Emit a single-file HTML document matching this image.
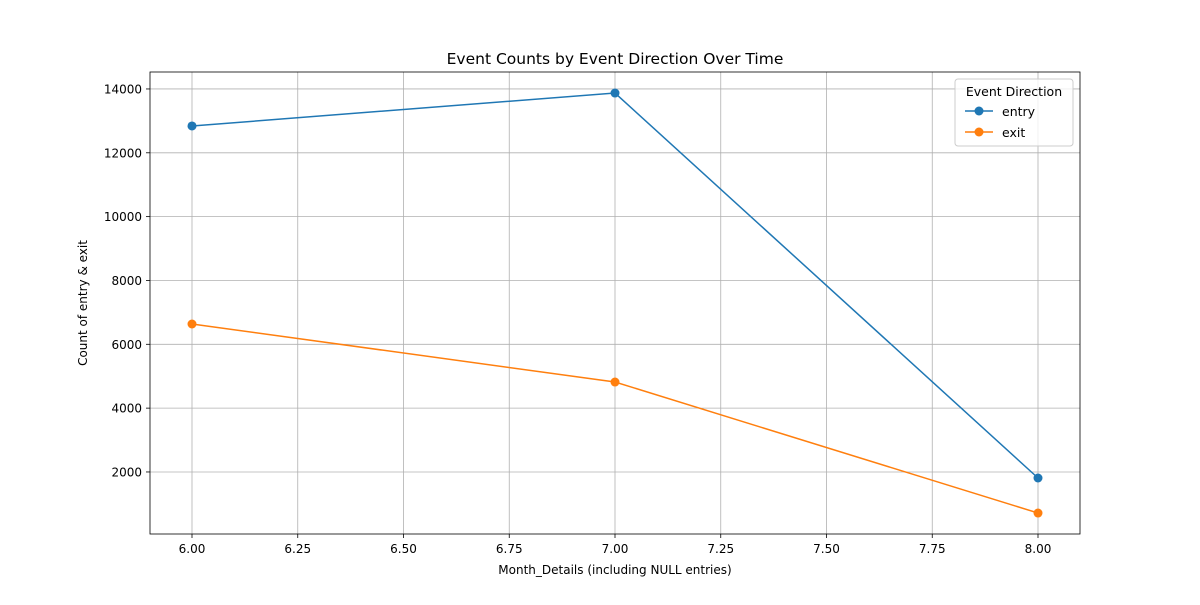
<!DOCTYPE html>
<html><head><meta charset="utf-8"><style>
body{margin:0;background:#fff;font-family:"Liberation Sans","DejaVu Sans",sans-serif;}
svg text{font-family:"DejaVu Sans","Liberation Sans",sans-serif;}
</style></head><body>
<svg id="chart" width="1200" height="600" xmlns="http://www.w3.org/2000/svg">
<rect width="1200" height="600" fill="#fff"/>
<g id="grid"></g>
<g id="ticks"></g>
<g id="series"></g>
<rect x="150" y="72" width="930" height="462" fill="none" stroke="#000" stroke-width="0.8"/>
<text x="615" y="64" text-anchor="middle" font-size="15.5">Event Counts by Event Direction Over Time</text>
<text x="615" y="574" text-anchor="middle" font-size="12">Month_Details (including NULL entries)</text>
<text transform="translate(87,303) rotate(-90)" text-anchor="middle" font-size="12">Count of entry &amp; exit</text>
<g>
<rect x="955" y="79" width="118" height="67" rx="3" fill="#fff" fill-opacity="0.8" stroke="#ccc"/>
<text x="1014" y="96" text-anchor="middle" font-size="12.5">Event Direction</text>
<g><line x1="965" y1="111" x2="993" y2="111" stroke="#1f77b4" stroke-width="1.5"/><circle cx="979" cy="111" r="4.5" fill="#1f77b4"/><text x="1002" y="116" font-size="12.5">entry</text></g>
<g><line x1="965" y1="132" x2="993" y2="132" stroke="#ff7f0e" stroke-width="1.5"/><circle cx="979" cy="132" r="4.5" fill="#ff7f0e"/><text x="1002" y="137" font-size="12.5">exit</text></g>
</g>
</svg>
<script>
const months=[6,7,8];
const entryValues=[12840,13873,1811];
const exitValues=[6636,4818,714];
const xTicks=[6.00,6.25,6.50,6.75,7.00,7.25,7.50,7.75,8.00];
const yTicks=[2000,4000,6000,8000,10000,12000,14000];

const NS="http://www.w3.org/2000/svg";
const xs=v=>192+(v-6)*423;
const ys=v=>535.8-v*0.031917;
function mk(tag,attrs,parent){const e=document.createElementNS(NS,tag);for(const k in attrs)e.setAttribute(k,attrs[k]);parent.appendChild(e);return e;}
const grid=document.getElementById('grid'),ticks=document.getElementById('ticks'),series=document.getElementById('series');
xTicks.forEach(t=>{
  const x=xs(t);
  const g=mk('line',{x1:x,x2:x,y1:72,y2:534,stroke:'#b0b0b0','stroke-width':0.8},grid);
  
  
  mk('line',{x1:x,x2:x,y1:534,y2:538,stroke:'#000','stroke-width':0.8},ticks);
  const tx=mk('text',{x:x,y:553,'text-anchor':'middle','font-size':12},ticks);
  tx.textContent=t.toFixed(2);
  
  
});
yTicks.forEach(t=>{
  const y=ys(t);
  const g=mk('line',{x1:150,x2:1080,y1:y,y2:y,stroke:'#b0b0b0','stroke-width':0.8},grid);
  
  
  mk('line',{x1:146,x2:150,y1:y,y2:y,stroke:'#000','stroke-width':0.8},ticks);
  const tx=mk('text',{x:142,y:y+4.5,'text-anchor':'end','font-size':12},ticks);
  tx.textContent=t;
  
  
});
[[entryValues,'#1f77b4','entry'],[exitValues,'#ff7f0e','exit']].forEach(([vals,c,n])=>{
  const pts=months.map((m,i)=>xs(m)+','+ys(vals[i])).join(' ');
  const pl=mk('polyline',{points:pts,fill:'none',stroke:c,'stroke-width':1.5},series);
  
  
  months.forEach((m,i)=>{
    const p=mk('circle',{cx:xs(m),cy:ys(vals[i]),r:4.5,fill:c},series);
    
    
  });
});
</script>
</body></html>
